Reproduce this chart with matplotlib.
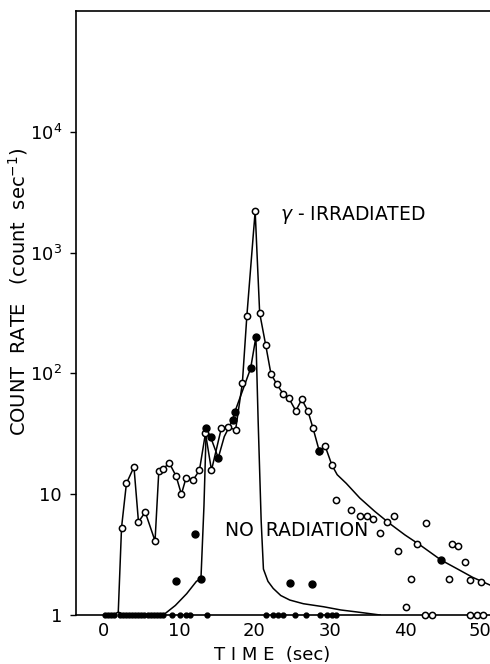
import numpy as np
import matplotlib.pyplot as plt

# gamma-irradiated sample (open circles), connected part
irr_t = [1.9, 2.35, 3.0, 4.0, 4.6, 5.5, 6.8, 7.3, 7.9, 8.7, 9.6, 10.3, 10.9, 11.9,
         12.7, 13.5, 14.3, 15.6, 16.5, 17.5, 18.4, 19.0, 20.1, 20.7, 21.5, 22.2,
         23.0, 23.8, 24.6, 25.5, 26.3, 27.1, 27.8, 28.6, 29.4, 30.3]
irr_y = [1.0, 5.3, 12.3, 16.8, 5.9, 7.1, 4.1, 15.5, 16.3, 18.1, 14.1, 10.0, 13.5, 13.2,
         15.8, 32, 15.8, 35, 36, 34, 83, 300, 2200, 316, 172, 99,
         81, 68, 62, 49, 61, 49, 35, 23, 25, 17.4]

# smooth decay curve drawn through the tail
tail_t = [30.3, 31.0, 32.2, 34.0, 36.0, 38.0, 40.0, 42.0, 44.8, 47.0, 49.0, 51.3]
tail_y = [17.4, 14.5, 12.3, 9.3, 7.2, 5.7, 4.6, 3.8, 2.85, 2.4, 2.05, 1.77]

# scattered open circles in the tail
scat_t = [30.9, 32.8, 34.0, 34.9, 35.8, 36.7, 37.6, 38.5, 39.1, 40.8, 41.6, 42.8,
          45.8, 46.3, 47.0, 48.0, 48.6, 50.1, 40.2, 42.7, 43.6, 48.7, 49.6, 50.4]
scat_y = [9.0, 7.4, 6.6, 6.6, 6.2, 4.8, 5.9, 6.6, 3.4, 2.0, 3.9, 5.8,
          2.0, 3.9, 3.7, 2.75, 1.95, 1.86, 1.17, 1.0, 1.0, 1.0, 1.0, 1.0]

# no radiation (filled circles) curve
norad_t = [7.9, 9.5, 11.0, 12.3, 12.9, 13.3, 13.6, 14.2, 15.2, 16.0, 17.1, 17.4,
           19.5, 20.2, 20.5, 20.9, 21.2, 21.8, 22.5, 23.5, 24.7, 26.5, 29.2, 31.5,
           33.6, 36.7]
norad_y = [1.0, 1.2, 1.5, 1.9, 2.0, 8.0, 35, 29.5, 20, 30, 41, 48,
           110, 200, 40, 6.0, 2.4, 1.9, 1.66, 1.45, 1.33, 1.24, 1.17, 1.1,
           1.06, 1.0]

# filled markers
fill_t = [13.6, 14.2, 15.2, 17.1, 17.4, 19.5, 20.2, 12.9, 12.1, 9.6, 24.7, 27.7, 28.6, 44.8]
fill_y = [35, 29.5, 20, 41, 48, 110, 200, 2.0, 4.7, 1.9, 1.85, 1.79, 23, 2.85]

# small dots sitting on the baseline
base_t = [0.2, 0.6, 1.0, 1.4, 2.2, 2.6, 3.0, 3.4, 3.8, 4.2, 4.6, 5.0, 5.4, 5.8, 6.2,
          6.6, 7.0, 7.4, 7.8, 9.0, 10.1, 10.9, 11.4, 13.7, 21.6, 22.5, 23.2, 23.8,
          25.4, 26.9, 28.7, 29.6, 30.3, 30.9]

plt.rcParams['font.family'] = ['DejaVu Sans']
plt.rcParams['mathtext.fontset'] = 'dejavusans'

fig = plt.figure(figsize=(4.9, 6.64), dpi=100)
ax = fig.add_axes([76 / 490, 49 / 664, 1 - 76 / 490, 604 / 664])

ax.plot(irr_t, irr_y, '-', color='black', lw=1.1, zorder=2)
ax.plot(tail_t, tail_y, '-', color='black', lw=1.1, zorder=2)
ax.plot(norad_t, norad_y, '-', color='black', lw=1.1, zorder=2)

ax.plot(irr_t, irr_y, 'o', mfc='white', mec='black', ms=4.5, mew=1.1, zorder=3)
ax.plot(scat_t, scat_y, 'o', mfc='white', mec='black', ms=4.5, mew=1.1, zorder=3,
        clip_on=False)
ax.plot(fill_t, fill_y, 'o', color='black', ms=5, zorder=4)
ax.plot(base_t, [1.0] * len(base_t), 'o', color='black', ms=3.5, zorder=4, clip_on=False)

ax.set_yscale('log')
ax.set_xlim(-3.7, 51.3)
ax.set_ylim(1, 1e5)
ax.set_xticks([0, 10, 20, 30, 40, 50])
ax.set_yticks([1, 10, 100, 1000, 10000])
ax.set_yticklabels(['1', '10', '$10^2$', '$10^3$', '$10^4$'])
ax.yaxis.set_minor_locator(plt.NullLocator())
ax.tick_params(axis='x', length=0, pad=5, labelsize=13)
ax.tick_params(axis='y', length=4, width=1, pad=6, labelsize=13, direction='out')
ax.spines['right'].set_visible(False)
for s in ['left', 'top', 'bottom']:
    ax.spines[s].set_linewidth(1.2)

ax.text(23.4, 2030, r'$\gamma$ - IRRADIATED', fontsize=13.5, va='center', ha='left')
ax.text(16.1, 5.0, 'NO  RADIATION', fontsize=13.5, va='center', ha='left')

ax.set_xlabel('T I M E  (sec)', fontsize=13)
ax.xaxis.set_label_coords(0.473, -0.052)
ax.set_ylabel('COUNT  RATE   (count  sec$^{-1}$)', fontsize=14)
ax.yaxis.set_label_coords(-0.112, 0.535)

fig.savefig('out.png', dpi=100)
